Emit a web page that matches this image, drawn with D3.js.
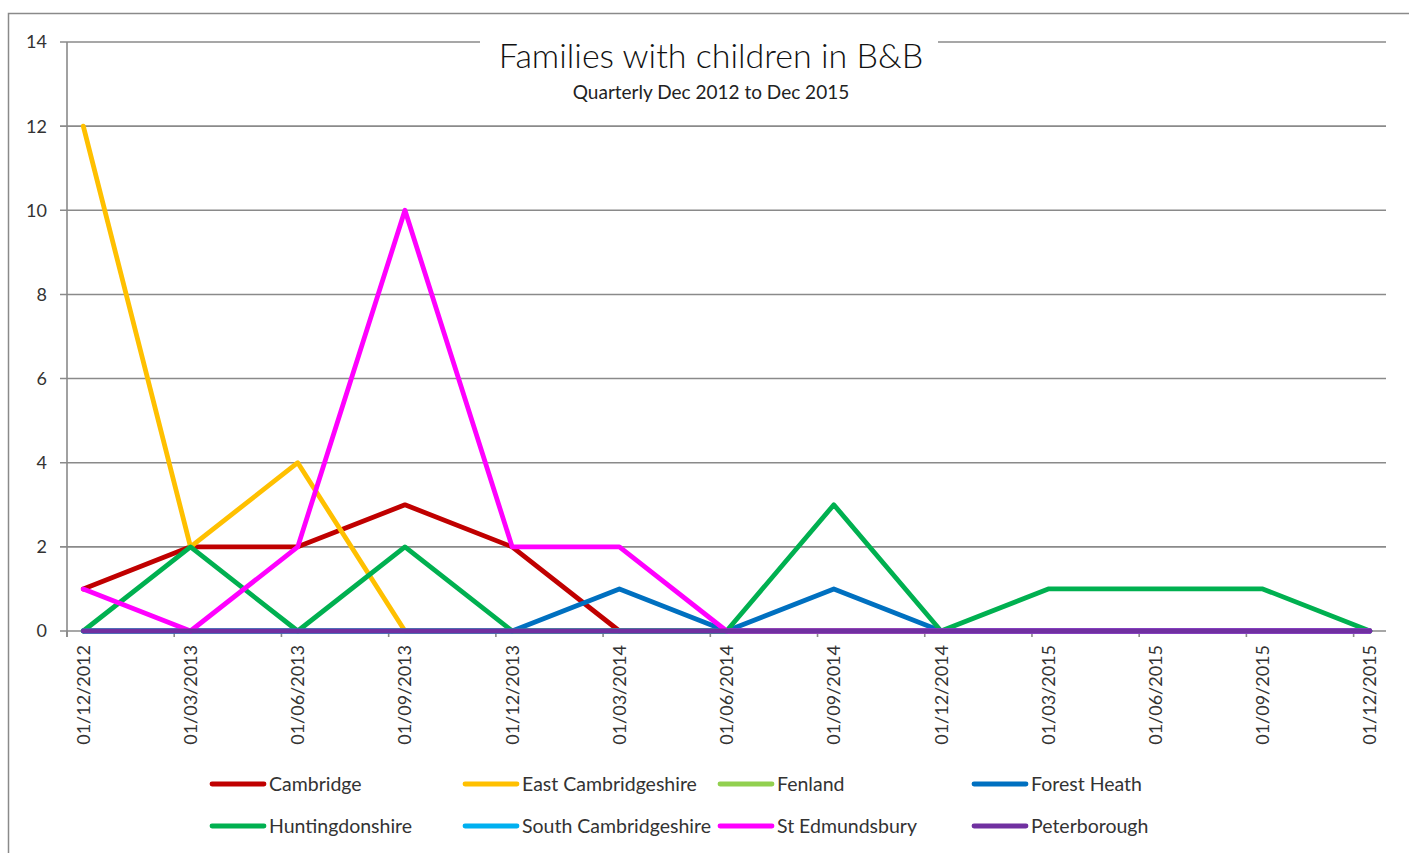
<!DOCTYPE html>
<html>
<head>
<meta charset="utf-8">
<script src="https://cdn.jsdelivr.net/npm/d3@7"></script>
<style>
  body { margin: 0; background: #fff; }
  text { font-family: Lato, "Open Sans", sans-serif; }
</style>
</head>
<body>
<svg id="chart" width="1409" height="853"></svg>
<script>

// quarterly dates (category labels)
var dates = ['01/12/2012','01/03/2013','01/06/2013','01/09/2013','01/12/2013','01/03/2014',
	'01/06/2014','01/09/2014','01/12/2014','01/03/2015','01/06/2015','01/09/2015','01/12/2015'];

var cambridge       = [1, 2, 2, 3, 2, 0, 0, 0, 0, 0, 0, 0, 0];
var eastCambs       = [12, 2, 4, 0, 0, 0, 0, 0, 0, 0, 0, 0, 0];
var fenland         = [0, 0, 0, 0, 0, 0, 0, 0, 0, 0, 0, 0, 0];
var forestHeath     = [0, 0, 0, 0, 0, 1, 0, 1, 0, 0, 0, 0, 0];
var huntingdonshire = [0, 2, 0, 2, 0, 0, 0, 3, 0, 1, 1, 1, 0];
var southCambs      = [0, 0, 0, 0, 0, 0, 0, 0, 0, 0, 0, 0, 0];
var stEdmundsbury   = [1, 0, 2, 10, 2, 2, 0, 0, 0, 0, 0, 0, 0];
var peterborough    = [0, 0, 0, 0, 0, 0, 0, 0, 0, 0, 0, 0, 0];

var seriesNames = ['Cambridge','East Cambridgeshire','Fenland','Forest Heath',
	'Huntingdonshire','South Cambridgeshire','St Edmundsbury','Peterborough'];
var seriesValues = [cambridge, eastCambs, fenland, forestHeath,
	huntingdonshire, southCambs, stEdmundsbury, peterborough];
var colours = ['#C00000','#FFC000','#92D050','#0070C0','#00B050','#00B0F0','#FF00FF','#7030A0'];

var yTicks = [0, 2, 4, 6, 8, 10, 12, 14];

var svg = d3.select('#chart');
var grey = '#8a8a8a';

// outer chart border
svg.append('rect')
	.attr('x', 8.5).attr('y', 13.5)
	.attr('width', 1440).attr('height', 900)
	.attr('fill', 'none').attr('stroke', grey).attr('stroke-width', 1.5);

// date axis: points sit a little right of the tick marks
var x = d3.scaleLinear().domain([-0.152, 12.15]).range([67, 1386]);
var y = d3.scaleLinear().domain([0, 14]).range([631, 42]);

// gridlines + y ticks
svg.append('g').selectAll('line')
	.data(yTicks)
	.enter().append('line')
		.attr('x1', 60).attr('x2', 1386)
		.attr('y1', function(d){ return y(d) }).attr('y2', function(d){ return y(d) })
		.attr('stroke', grey).attr('stroke-width', 1.6);

svg.append('g').selectAll('text')
	.data(yTicks)
	.enter().append('text')
		.attr('x', 47).attr('y', function(d){ return y(d) })
		.attr('dy', '0.36em')
		.attr('text-anchor', 'end')
		.style('font-size', '18px').style('fill', '#333')
		.text(function(d){ return d });

// y axis line
svg.append('line')
	.attr('x1', 67).attr('x2', 67).attr('y1', y(14)).attr('y2', 637)
	.attr('stroke', grey).attr('stroke-width', 1.6);

// x tick marks
svg.append('g').selectAll('line')
	.data(dates)
	.enter().append('line')
		.attr('x1', function(d, i){ return x(i - 0.152) })
		.attr('x2', function(d, i){ return x(i - 0.152) })
		.attr('y1', 631).attr('y2', 637)
		.attr('stroke', grey).attr('stroke-width', 1.6);

// x labels, rotated
svg.append('g').selectAll('text')
	.data(dates)
	.enter().append('text')
		.attr('transform', function(d, i){ return 'translate(' + x(i) + ',645) rotate(-90)' })
		.attr('dy', '0.36em')
		.attr('text-anchor', 'end')
		.style('font-size', '18px').style('fill', '#333')
		.text(function(d){ return d });

// the lines
var line = d3.line()
	.x(function(d, i){ return x(i) })
	.y(function(d){ return y(d) });

svg.append('g').selectAll('path')
	.data(seriesValues)
	.enter().append('path')
		.attr('d', line)
		.attr('fill', 'none')
		.attr('stroke', function(d, i){ return colours[i] })
		.attr('stroke-width', 4.8)
		.attr('stroke-linejoin', 'round')
		.attr('stroke-linecap', 'round');

// title block, white box breaks the top gridline
svg.append('rect')
	.attr('x', 480).attr('y', 30).attr('width', 458).attr('height', 80)
	.attr('fill', '#fff');
svg.append('text')
	.attr('x', 711).attr('y', 68)
	.attr('text-anchor', 'middle')
	.style('font-size', '34px').style('font-weight', 300).style('fill', '#111')
	.text('Families with children in B&B');
svg.append('text')
	.attr('x', 711).attr('y', 99)
	.attr('text-anchor', 'middle')
	.style('font-size', '19px').style('fill', '#222')
	.text('Quarterly Dec 2012 to Dec 2015');

// legend, 4 columns x 2 rows
var legendCols = [210, 463, 718, 972];
var legendRows = [784, 826];

var legend = svg.append('g').selectAll('g')
	.data(seriesNames)
	.enter().append('g')
		.attr('transform', function(d, i){
			return 'translate(' + legendCols[i % 4] + ',' + legendRows[Math.floor(i / 4)] + ')';
		});

legend.append('line')
	.attr('x1', 2).attr('x2', 54)
	.attr('stroke', function(d, i){ return colours[i] })
	.attr('stroke-width', 4.8)
	.attr('stroke-linecap', 'round');

legend.append('text')
	.attr('x', 59).attr('dy', '0.36em')
	.style('font-size', '19.5px').style('fill', '#333')
	.text(function(d){ return d });

</script>
</body>
</html>
